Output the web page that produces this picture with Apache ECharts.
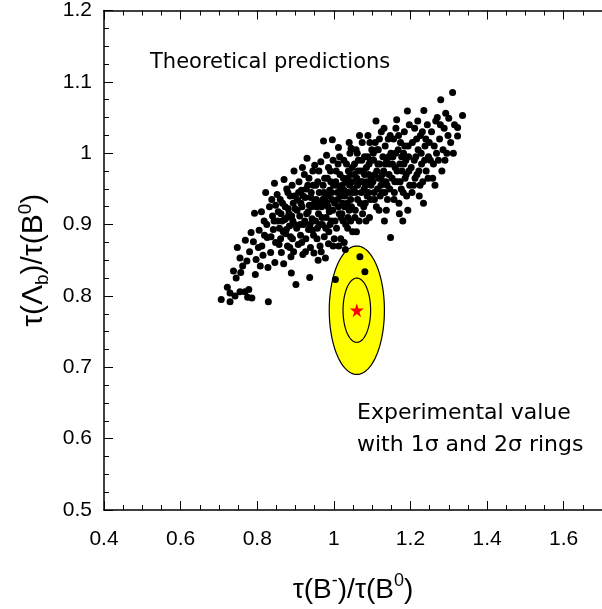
<!DOCTYPE html>
<html><head><meta charset="utf-8">
<script src="https://cdn.jsdelivr.net/npm/echarts@6/dist/echarts.min.js"></script>
<style>html,body{margin:0;padding:0;background:#fff}#c{width:602px;height:609px}</style>
</head><body><div id="c"></div>
<script>
// x tick range / y tick range
const xTicks = {min:0.4, max:1.7, interval:0.2};
const yTicks = {min:0.5, max:1.2, interval:0.1};

// Theoretical predictions: [tau(B-)/tau(B0), tau(Lambda_b)/tau(B0)]
const predictions = [
[0.706,0.795],[0.729,0.804],[0.729,0.792],[0.745,0.825],[0.722,0.812],[0.738,0.835],[0.748,0.868],[0.742,0.800],
[0.755,0.853],[0.757,0.833],[0.755,0.806],[0.768,0.806],[0.778,0.809],[0.775,0.798],[0.786,0.797],[0.773,0.849],[0.762,0.842],[0.780,0.862],[0.793,0.916],[0.790,0.876],[0.784,0.889],[0.797,0.851],[0.769,0.878],[0.795,0.830],
[0.805,0.892],[0.812,0.870],[0.818,0.905],[0.822,0.945],[0.808,0.842],[0.826,0.882],[0.829,0.792],[0.835,0.861],[0.840,0.912],[0.845,0.958],[0.832,0.925],[0.815,0.857],[0.842,0.893],[0.848,0.875],[0.803,0.868],[0.838,0.935],[0.825,0.900],[0.811,0.918],[0.846,0.847],[0.836,0.883],[0.828,0.840],[0.848,0.927],[0.819,0.885],[0.844,0.905],
[0.852,0.942],[0.855,0.918],[0.858,0.895],[0.861,0.880],[0.863,0.861],[0.866,0.930],[0.870,0.963],[0.872,0.907],[0.874,0.887],[0.877,0.950],[0.879,0.870],[0.881,0.922],[0.884,0.898],[0.886,0.940],[0.888,0.855],[0.890,0.912],[0.892,0.880],[0.894,0.930],[0.896,0.975],[0.898,0.900],[0.857,0.872],[0.860,0.935],[0.865,0.905],[0.869,0.845],[0.873,0.925],[0.876,0.893],[0.880,0.945],[0.883,0.915],[0.887,0.883],[0.891,0.955],[0.895,0.862],[0.899,0.922],[0.853,0.905],[0.862,0.915],[0.868,0.890],[0.878,0.910],[0.885,0.868],[0.893,0.905],[0.897,0.940],[0.889,0.832],
[0.901,0.816],[0.903,0.895],[0.905,0.935],[0.907,0.872],[0.909,0.960],[0.911,0.912],[0.913,0.885],[0.915,0.948],[0.917,0.925],[0.919,0.858],[0.921,0.900],[0.923,0.970],[0.925,0.938],[0.927,0.880],[0.929,0.915],[0.930,0.993],[0.932,0.955],[0.934,0.893],[0.936,0.927],[0.937,0.826],[0.939,0.868],[0.941,0.945],[0.943,0.908],[0.945,0.975],[0.947,0.885],[0.949,0.930],[0.950,0.983],[0.904,0.920],[0.908,0.945],[0.912,0.900],[0.916,0.875],[0.920,0.940],[0.924,0.905],[0.928,0.950],[0.933,0.918],[0.938,0.900],[0.942,0.925],[0.946,0.955],[0.948,0.860],[0.918,0.980],[0.926,0.862],[0.935,0.965],[0.944,0.892],[0.914,0.930],[0.940,0.938],
[0.952,0.905],[0.954,0.935],[0.956,0.880],[0.958,0.960],[0.960,0.915],[0.962,0.945],[0.964,0.870],[0.966,0.988],[0.968,0.925],[0.970,0.900],[0.972,0.955],[0.973,1.017],[0.975,0.883],[0.977,0.938],[0.978,0.853],[0.980,0.910],[0.981,0.997],[0.983,0.965],[0.985,0.925],[0.987,0.890],[0.989,0.948],[0.991,0.975],[0.993,0.905],[0.995,0.935],[0.996,1.019],[0.998,0.870],[0.999,0.955],[0.953,0.955],[0.957,0.895],[0.961,0.975],[0.965,0.930],[0.969,0.910],[0.974,0.945],[0.979,0.895],[0.984,0.940],[0.988,0.918],[0.992,0.960],[0.997,0.920],[0.955,0.925],[0.963,0.900],[0.971,0.935],[0.976,0.965],[0.982,0.930],[0.986,0.980],[0.990,0.900],[0.994,0.945],[0.959,0.850],[0.967,0.862],[0.986,0.873],[0.998,0.990],
[1.002,0.930],[1.004,0.823],[1.005,0.960],[1.007,0.895],[1.009,0.945],[1.011,0.985],[1.012,1.008],[1.014,0.915],[1.016,0.970],[1.018,0.880],[1.020,0.940],[1.022,0.955],[1.024,0.905],[1.026,0.990],[1.028,0.925],[1.030,0.865],[1.032,0.960],[1.034,0.945],[1.036,0.895],[1.038,0.975],[1.040,0.920],[1.042,1.000],[1.044,0.935],[1.045,1.007],[1.047,0.960],[1.049,0.890],[1.003,0.905],[1.006,0.975],[1.010,0.935],[1.013,0.870],[1.017,0.950],[1.021,0.915],[1.025,0.965],[1.029,0.940],[1.033,0.985],[1.037,0.910],[1.041,0.955],[1.046,0.925],[1.048,0.980],[1.008,0.955],[1.015,0.995],[1.023,0.930],[1.031,0.900],[1.039,0.945],[1.043,0.970],[1.019,0.910],[1.027,0.875],[1.035,0.930],[1.001,0.880],[1.044,0.905],[1.012,0.925],[1.026,0.948],[1.036,0.965],[1.048,0.945],[1.040,1.015],
[1.052,0.950],[1.054,0.985],[1.056,0.920],[1.058,1.005],[1.060,0.965],[1.062,0.935],[1.064,0.990],[1.066,0.905],[1.068,0.855],[1.070,0.975],[1.072,0.945],[1.074,1.015],[1.076,0.960],[1.078,0.925],[1.080,0.995],[1.081,0.834],[1.083,0.955],[1.085,0.980],[1.087,0.940],[1.089,1.025],[1.091,0.970],[1.093,0.910],[1.095,0.990],[1.097,0.955],[1.099,1.005],[1.053,0.970],[1.057,0.945],[1.061,1.000],[1.065,0.960],[1.069,0.930],[1.073,0.990],[1.077,0.975],[1.082,0.930],[1.086,0.960],[1.090,0.945],[1.094,1.015],[1.098,0.965],[1.055,0.910],[1.063,0.975],[1.071,0.960],[1.079,0.950],[1.088,0.995],[1.096,0.935],[1.059,0.890],[1.067,1.025],[1.075,0.915],[1.084,0.905],[1.092,0.985],[1.062,0.955],[1.080,0.970],
[1.102,0.960],[1.104,0.990],[1.106,0.935],[1.108,1.015],[1.110,1.045],[1.112,0.975],[1.114,0.950],[1.116,1.005],[1.118,0.920],[1.120,0.985],[1.122,0.965],[1.124,1.030],[1.126,0.945],[1.128,0.995],[1.130,0.975],[1.132,0.905],[1.134,1.010],[1.136,0.960],[1.138,0.990],[1.140,0.935],[1.142,1.020],[1.144,0.970],[1.146,0.950],[1.148,0.882],[1.149,1.000],[1.103,1.000],[1.107,0.970],[1.111,0.925],[1.115,0.985],[1.119,1.020],[1.123,0.955],[1.127,0.970],[1.131,1.035],[1.135,0.985],[1.139,0.955],[1.143,0.995],[1.147,1.025],[1.105,0.945],[1.113,1.005],[1.121,0.940],[1.129,0.960],[1.137,0.920],[1.145,0.985],[1.117,0.965],[1.133,0.945],
[1.152,0.965],[1.154,0.995],[1.156,1.020],[1.158,0.945],[1.160,0.980],[1.162,1.035],[1.164,1.047],[1.166,0.960],[1.168,1.005],[1.170,0.930],[1.172,0.985],[1.174,1.015],[1.176,0.950],[1.178,0.975],[1.180,0.905],[1.182,1.000],[1.184,1.030],[1.186,0.965],[1.188,0.990],[1.190,0.940],[1.192,1.059],[1.194,1.010],[1.196,0.975],[1.198,0.955],[1.153,0.985],[1.157,0.935],[1.161,1.000],[1.165,0.975],[1.169,1.025],[1.173,0.960],[1.177,0.995],[1.181,0.945],[1.185,1.010],[1.189,0.970],[1.193,0.920],[1.197,1.040],[1.159,0.960],[1.171,0.915],[1.183,0.985],[1.195,0.995],
[1.202,0.980],[1.205,1.015],[1.208,0.955],[1.211,1.035],[1.214,0.995],[1.217,0.970],[1.220,1.005],[1.223,0.940],[1.226,1.025],[1.229,0.985],[1.232,0.960],[1.235,1.060],[1.238,1.010],[1.241,0.975],[1.244,1.040],[1.247,0.995],[1.204,0.945],[1.210,0.990],[1.216,1.020],[1.222,0.975],[1.228,1.000],[1.234,0.930],[1.240,1.020],[1.246,0.965],[1.212,0.965],[1.225,0.955],[1.237,0.990],[1.249,1.015],[1.219,1.045],[1.231,1.030],
[1.252,0.990],[1.255,1.030],[1.258,0.965],[1.262,1.010],[1.266,1.045],[1.270,1.050],[1.273,0.990],[1.276,1.020],[1.279,1.075],[1.282,0.975],[1.285,1.005],[1.288,1.035],[1.292,1.056],[1.295,1.000],[1.298,1.025],[1.260,0.985],[1.268,1.000],[1.278,1.040],[1.290,0.990],[1.264,0.955],
[1.300,1.049],[1.310,1.085],[1.305,1.015],[1.315,1.040],[1.323,1.036],[1.323,1.024],[1.336,1.053],[1.312,1.000]
];

// Experimental value and 1 sigma errors
const expCenter = [1.06, 0.78];
const expSigma = [0.036, 0.045];
const rings = [2, 1];

const ringData = rings.map(n => [expCenter[0], expCenter[1], expSigma[0]*n, expSigma[1]*n, n]);

const FONT = 'Liberation Sans';
const chart = echarts.init(document.getElementById('c'));

function renderEllipse(params, api) {
  const cx = api.value(0), cy = api.value(1), sx = api.value(2), sy = api.value(3), n = api.value(4);
  const c = api.coord([cx, cy]);
  const px = api.coord([cx + sx, cy]);
  const py = api.coord([cx, cy + sy]);
  const rx = Math.abs(px[0] - c[0]), ry = Math.abs(c[1] - py[1]);
  const pts = [];
  for (let i = 0; i < 120; i++) {
    const a = i / 120 * Math.PI * 2;
    pts.push([c[0] + rx * Math.cos(a), c[1] + ry * Math.sin(a)]);
  }
  return {
    type: 'polygon',
    shape: { points: pts },
    style: { fill: n === 2 ? '#ffff00' : 'rgba(0,0,0,0)', stroke: '#000', lineWidth: 1.2 }
  };
}

const axisCommon = {
  type: 'value',
  axisLine: { show: true, lineStyle: { color: '#000', width: 1.5 } },
  axisTick: { show: true, inside: true, length: 9, lineStyle: { color: '#000', width: 1 } },
  minorTick: { show: true, splitNumber: 4, length: 5, lineStyle: { color: '#000', width: 1 } },
  splitLine: { show: false },
  minorSplitLine: { show: false }
};

chart.setOption({
  animation: false,
  backgroundColor: '#fff',
  grid: { left: 104, top: 10, width: 506, height: 500, containLabel: false },
  xAxis: [
    Object.assign({}, axisCommon, {
      min: xTicks.min, max: xTicks.max, interval: xTicks.interval, position: 'bottom',
      axisLabel: { color: '#000', fontFamily: FONT, fontSize: 21, margin: 19, showMaxLabel: false },
      name: '{t|τ(B}{s|-}{t|)/τ(B}{s|0}{t|)}',
      nameLocation: 'middle', nameGap: 62,
      nameTextStyle: {
        rich: {
          t: { fontFamily: FONT, fontSize: 28, color: '#000', lineHeight: 32, verticalAlign: 'bottom' },
          s: { fontFamily: FONT, fontSize: 18, color: '#000', lineHeight: 16, verticalAlign: 'top' }
        }
      }
    }),
    Object.assign({}, axisCommon, {
      min: xTicks.min, max: xTicks.max, interval: xTicks.interval, position: 'top',
      axisLabel: { show: false }
    })
  ],
  yAxis: Object.assign({}, axisCommon, {
    min: yTicks.min, max: yTicks.max, interval: yTicks.interval,
    axisLabel: { color: '#000', fontFamily: FONT, fontSize: 21, margin: 12 },
    name: '{t|τ(Λ}{b|b}{t|)/τ(B}{s|0}{t|)}',
    nameLocation: 'middle', nameGap: 48, nameRotate: 90,
    nameTextStyle: {
      rich: {
        t: { fontFamily: FONT, fontSize: 30, color: '#000', lineHeight: 36, verticalAlign: 'middle' },
        s: { fontFamily: FONT, fontSize: 19, color: '#000', lineHeight: 16, verticalAlign: 'top' },
        b: { fontFamily: FONT, fontSize: 19, color: '#000', lineHeight: 16, verticalAlign: 'bottom' }
      }
    }
  }),
  graphic: [
    { type: 'text', left: 150, top: 52, style: { text: 'Theoretical predictions', font: '21px "DejaVu Sans"', fill: '#000' } },
    { type: 'text', left: 357, top: 402, style: { text: 'Experimental value', font: '22px "DejaVu Sans"', fill: '#000' } },
    { type: 'text', left: 357, top: 434, style: { text: 'with 1σ and 2σ rings', font: '22px "DejaVu Sans"', fill: '#000' } }
  ],
  series: [
    {
      type: 'custom', renderItem: renderEllipse, data: ringData, xAxisIndex: 0, yAxisIndex: 0, z: 1, silent: true
    },
    {
      type: 'scatter', data: predictions, symbol: 'circle', symbolSize: 7,
      itemStyle: { color: '#000', opacity: 1 }, z: 2, silent: true
    },
    {
      type: 'scatter', data: [expCenter],
      symbol: 'path://M50,0 L61,35 L98,35 L68,57 L79,91 L50,70 L21,91 L32,57 L2,35 L39,35 Z',
      symbolSize: 14, itemStyle: { color: '#ff0000', opacity: 1 }, z: 3, silent: true
    }
  ]
});
</script>
</body></html>
